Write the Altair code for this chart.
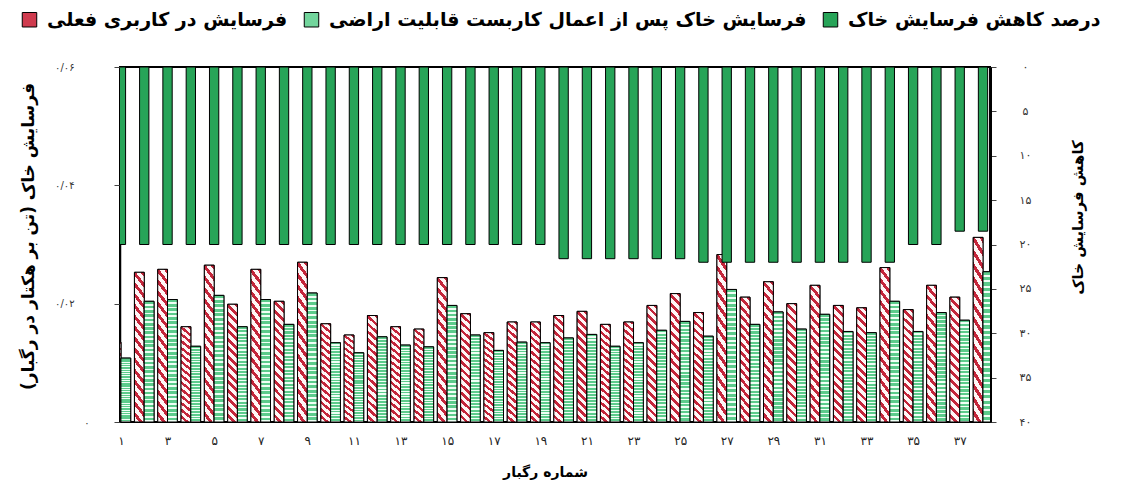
import json
import altair as alt
import pandas as pd

# ---------------- data ----------------
events = list(range(1, 39))
current_use = [0.0135, 0.0253, 0.0258, 0.0161, 0.0265, 0.0199, 0.0258, 0.0204, 0.0270, 0.0166,
               0.0147, 0.0180, 0.0161, 0.0157, 0.0244, 0.0183, 0.0151, 0.0169, 0.0169, 0.0180,
               0.0187, 0.0165, 0.0169, 0.0197, 0.0217, 0.0185, 0.0283, 0.0211, 0.0237, 0.0200,
               0.0231, 0.0197, 0.0193, 0.0261, 0.0190, 0.0231, 0.0211, 0.0312]
after_land_use = [0.0108, 0.0204, 0.0207, 0.0128, 0.0214, 0.0161, 0.0207, 0.0165, 0.0218, 0.0134,
                  0.0117, 0.0144, 0.0130, 0.0127, 0.0197, 0.0147, 0.0121, 0.0135, 0.0134, 0.0142,
                  0.0148, 0.0128, 0.0134, 0.0155, 0.0170, 0.0145, 0.0224, 0.0165, 0.0186, 0.0157,
                  0.0182, 0.0153, 0.0151, 0.0204, 0.0153, 0.0185, 0.0172, 0.0254]
reduction_pct = [20, 20, 20, 20, 20, 20, 20, 20, 20, 20,
                 20, 20, 20, 20, 20, 20, 20, 20, 20, 21.6,
                 21.6, 21.6, 21.6, 21.6, 21.6, 22, 22, 22, 22, 22,
                 22, 22, 22, 22, 20, 20, 18.5, 18.5]

series_names = ["فرسایش در کاربری فعلی",
                "فرسایش خاک پس از اعمال کاربست قابلیت اراضی",
                "درصد کاهش فرسایش خاک"]
series_colors = ["#cf3b4e", "#72d59c", "#27a458"]

x_tick_values = [1, 3, 5, 7, 9, 11, 13, 15, 17, 19, 21, 23, 25, 27, 29, 31, 33, 35, 37]
x_tick_labels = ["۱", "۳", "۵", "۷", "۹", "۱۱", "۱۳", "۱۵", "۱۷", "۱۹",
                 "۲۱", "۲۳", "۲۵", "۲۷", "۲۹", "۳۱", "۳۳", "۳۵", "۳۷"]
left_tick_values = [0, 0.02, 0.04, 0.06]
left_tick_labels = ["۰", "۰/۰۲", "۰/۰۴", "۰/۰۶"]
right_tick_values = [0, 5, 10, 15, 20, 25, 30, 35, 40]
right_tick_labels = ["۰", "۵", "۱۰", "۱۵", "۲۰", "۲۵", "۳۰", "۳۵", "۴۰"]

x_title = "شماره رگبار"
left_title = "فرسایش خاک (تن بر هکتار در رگبار)\u200f"
right_title = "کاهش فرسایش خاک"

df = pd.DataFrame({"event": events, "current": current_use,
                   "after": after_land_use, "reduction": reduction_pct})

FONT = "DejaVu Sans"
HALF = 0.42   # width of a side bar, in event units
DHALF = 0.2   # half width of the reduction bar


def stripes(c1, c2, n, frac, x1, y1, x2, y2):
    stops = []
    for i in range(n):
        s, m, e = i / n, (i + frac) / n, (i + 1) / n
        stops += [{"offset": s, "color": c1}, {"offset": m, "color": c1},
                  {"offset": m, "color": c2}, {"offset": e, "color": c2}]
    return {"gradient": "linear", "x1": x1, "y1": y1, "x2": x2, "y2": y2, "stops": stops}


k = 12.0
a = (1 + k) / (1 + k * k)
red_hatch = stripes("#c4263b", "#fff6f6", 15, 0.45, 1, 0, 1 - a, k * a)
green_lines = stripes("#5ccb8b", "#effff5", 28, 0.62, 0, 0, 0, 1)


def idx_expr(labels, values, value_expr):
    return (f"{json.dumps(labels, ensure_ascii=False)}"
            f"[indexof({json.dumps(values)}, {value_expr})]")


x_scale = alt.Scale(domain=[0.96, 38.3], nice=False, zero=False)
yl_scale = alt.Scale(domain=[0, 0.06], nice=False)
yr_scale = alt.Scale(domain=[0, 40], reverse=True, nice=False)
fill_scale = alt.Scale(domain=series_names, range=series_colors)

x_axis = alt.Axis(values=x_tick_values,
                  labelExpr=idx_expr(x_tick_labels, x_tick_values, "datum.value"),
                  ticks=False, domain=False, grid=False, labelPadding=13,
                  labelFontSize=12, labelColor="#222", labelFlush=False,
                  labelOverlap=False, title=x_title, titleFontSize=14,
                  titleFontWeight="bold", titleX=425, titleY=50, titleAlign="center",
                  titleBaseline="middle")

left_axis = alt.Axis(orient="left", values=left_tick_values,
                     labelExpr=idx_expr(left_tick_labels,
                                        [round(v * 100) for v in left_tick_values],
                                        "round(datum.value*100)"),
                     grid=False, domain=True, domainColor="black", domainWidth=1.5,
                     tickSize=6, tickColor="#444", labelAlign="right",
                     labelPadding={"condition": {"test": "datum.value == 0", "value": 25},
                                   "value": 40},
                     labelFontSize=10, labelColor="#333", labelFlush=False,
                     title=left_title, titleX=-92, titleY=169, titleAngle=270,
                     titleAlign="center", titleBaseline="middle", titleFontSize=17,
                     titleFontWeight="bold")

right_axis = alt.Axis(orient="right", values=right_tick_values,
                      labelExpr=idx_expr(right_tick_labels, right_tick_values, "datum.value"),
                      grid=False, domain=True, domainColor="black", domainWidth=3,
                      tickSize=6, tickColor="#444", labelAlign="center", labelPadding=29,
                      labelFontSize=11, labelColor="#333", labelFlush=False,
                      title=right_title, titleX=87, titleY=150, titleAngle=270,
                      titleAlign="center", titleBaseline="middle", titleFontSize=15,
                      titleFontWeight="bold")

legend = alt.Legend(title=None, orient="none", legendX=-100, legendY=-57,
                    direction="horizontal", symbolType="square", symbolSize=210,
                    symbolStrokeColor="black", symbolStrokeWidth=1,
                    labelFontSize=19, labelFontWeight="bold", labelColor="black",
                    labelFont=FONT, labelLimit=800, labelOffset=8, columnPadding=14,
                    padding=0)

base = alt.Chart(df).transform_calculate(
    xa=f"datum.event - {HALF}",
    xb=f"datum.event + {HALF}",
    xd1=f"datum.event - {DHALF}",
    xd2=f"datum.event + {DHALF}",
    s0=f"'{series_names[0]}'",
    s1=f"'{series_names[1]}'",
    s2=f"'{series_names[2]}'",
)

bar_kw = dict(clip=True, stroke="black", strokeWidth=1)
zero = alt.datum(0)

red_base = base.mark_bar(**bar_kw).encode(
    x=alt.X("xa:Q", scale=x_scale, axis=x_axis), x2="event:Q",
    y=alt.Y("current:Q", scale=yl_scale, axis=left_axis), y2=zero,
    fill=alt.Fill("s0:N", scale=fill_scale, legend=legend))
red_pat = base.mark_bar(fill=red_hatch, **bar_kw).encode(
    x=alt.X("xa:Q", scale=x_scale, axis=x_axis), x2="event:Q",
    y=alt.Y("current:Q", scale=yl_scale, axis=left_axis), y2=zero)
green_base = base.mark_bar(**bar_kw).encode(
    x=alt.X("event:Q", scale=x_scale, axis=x_axis), x2="xb:Q",
    y=alt.Y("after:Q", scale=yl_scale, axis=left_axis), y2=zero,
    fill=alt.Fill("s1:N", scale=fill_scale, legend=legend))
green_pat = base.mark_bar(fill=green_lines, **bar_kw).encode(
    x=alt.X("event:Q", scale=x_scale, axis=x_axis), x2="xb:Q",
    y=alt.Y("after:Q", scale=yl_scale, axis=left_axis), y2=zero)

left_group = alt.layer(red_base, red_pat, green_base, green_pat)

dotted = base.mark_bar(cornerRadiusEnd=2, **bar_kw).encode(
    x=alt.X("xd1:Q", scale=x_scale, axis=x_axis), x2="xd2:Q",
    y=alt.Y("reduction:Q", scale=yr_scale, axis=right_axis), y2=zero,
    fill=alt.Fill("s2:N", scale=fill_scale, legend=legend))

chart = alt.layer(left_group, dotted).resolve_scale(y="independent").properties(
    width=870, height=355,
    autosize=alt.AutoSizeParams(type="none"),
    padding={"left": 112, "top": 59, "right": 139, "bottom": 60},
    background="white",
).configure(font=FONT).configure_view(
    stroke="black", strokeWidth=2
).configure_axis(labelFont=FONT, titleFont=FONT, titleColor="black")

chart.save("out.html", embed_options={"renderer": "svg", "actions": False})
